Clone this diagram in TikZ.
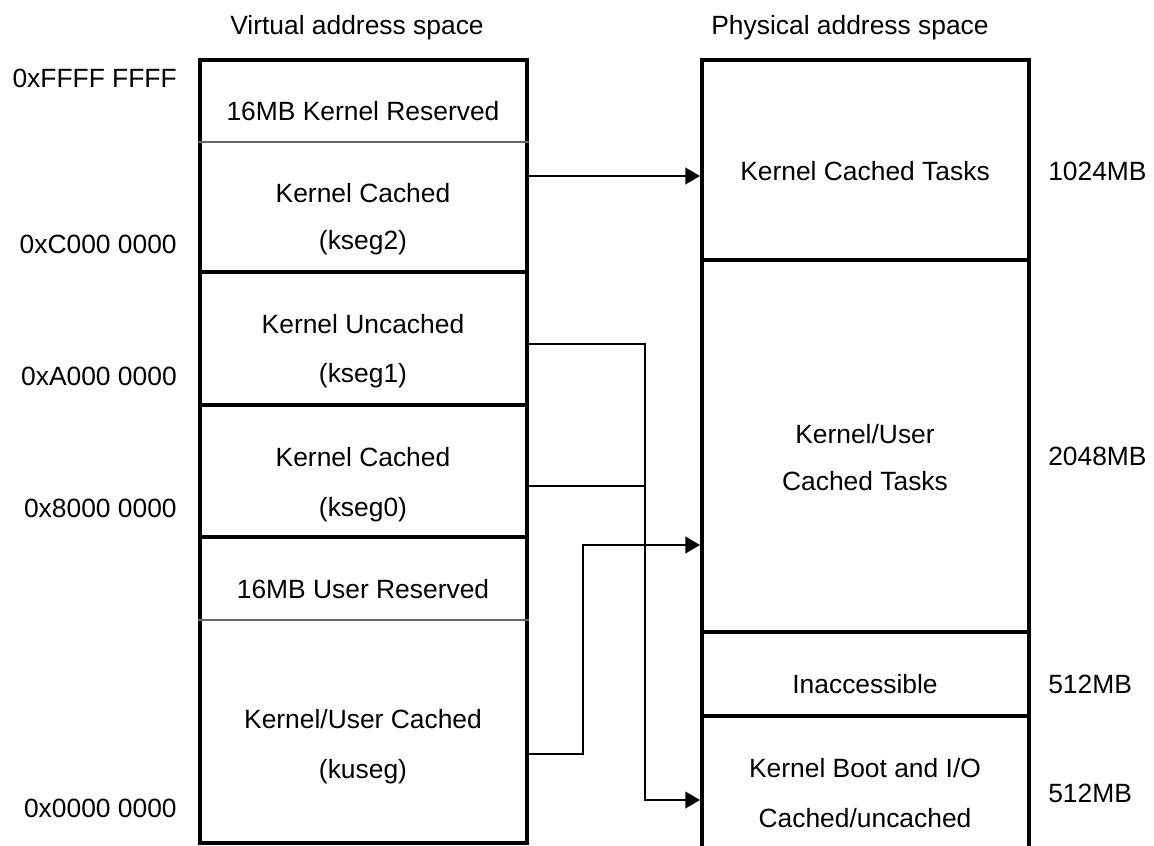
\documentclass[tikz,border=0pt]{standalone}
\usepackage{fontspec}
\setmainfont{Liberation Sans}
\usetikzlibrary{arrows.meta}

\tikzset{
  seg/.style 2 args={draw, line width=3pt, minimum width=#1*0.75pt, minimum height=#2*0.75pt, inner sep=0pt},
  lbl/.style={anchor=base, inner sep=0pt},
  addr/.style={anchor=base east, inner sep=0pt},
  mb/.style={anchor=base west, inner sep=0pt},
  divider/.style={line width=1.5pt, black!60},
  link/.style={line width=1.5pt, -{Triangle[length=11pt, width=12.5pt]}},
}

\begin{document}
\begin{tikzpicture}[x=0.75pt, y=-0.75pt, font=\fontsize{19.8}{24}\selectfont]

    \useasboundingbox (0,0) rectangle (1154,846);

    % virtual side
    \node[seg={327}{212}] (kseg2) at (363.5,166) {};
    \node[seg={327}{133}] (kseg1) at (363.5,338.5) {};
    \node[seg={327}{132}] (kseg0) at (363.5,471) {};
    \node[seg={327}{306}] (kuseg) at (363.5,690) {};
    \draw[divider] (kseg2.west |- 0,142) -- (kseg2.east |- 0,142);
    \draw[divider] (kuseg.west |- 0,620) -- (kuseg.east |- 0,620);

    % physical side
    \node[seg={327}{199.5}] (ktasks) at (865.5,159.75) {};
    \node[seg={327}{372.5}] (kutasks) at (865.5,445.75) {};
    \node[seg={327}{84}] (inacc) at (865.5,674) {};
    \node[seg={327}{184}] (boot) at (865.5,808) {};

    \node[lbl] (vtitle) at (357,35) {Virtual address space};
    \node[lbl] (ptitle) at (850,35) {Physical address space};

    \node[lbl] (kres) at (363,120) {16MB Kernel Reserved};
    \node[lbl] (kc2) at (363,202) {Kernel Cached};
    \node[lbl] (kc2b) at (363,249) {(kseg2)};
    \node[lbl] (ku1) at (363,333) {Kernel Uncached};
    \node[lbl] (ku1b) at (363,382) {(kseg1)};
    \node[lbl] (kc0) at (363,466) {Kernel Cached};
    \node[lbl] (kc0b) at (363,516) {(kseg0)};
    \node[lbl] (ures) at (363,598) {16MB User Reserved};
    \node[lbl] (kuc) at (363,728) {Kernel/User Cached};
    \node[lbl] (kucb) at (363,778) {(kuseg)};

    \node[addr] (aF) at (177,87) {0xFFFF FFFF};
    \node[addr] (aC) at (177,253) {0xC000 0000};
    \node[addr] (aA) at (177,385) {0xA000 0000};
    \node[addr] (a8) at (177,517) {0x8000 0000};
    \node[addr] (a0) at (177,817) {0x0000 0000};

    \node[lbl] (kct) at (865,180) {Kernel Cached Tasks};
    \node[lbl] (kut) at (865,443) {Kernel/User};
    \node[lbl] (kutb) at (865,490) {Cached Tasks};
    \node[lbl] (inac) at (865,693) {Inaccessible};
    \node[lbl] (kbio) at (865,777) {Kernel Boot and I/O};
    \node[lbl] (kbiob) at (865,827) {Cached/uncached};

    \node[mb] (m1024) at (1048,180) {1024MB};
    \node[mb] (m2048) at (1048,465) {2048MB};
    \node[mb] (m512a) at (1048,693) {512MB};
    \node[mb] (m512b) at (1048,802) {512MB};

    % mappings
    \coordinate (drop) at (645,800);
    \coordinate (rise) at (583,545);
    \draw[link] (kseg2.east |- 0,176) -- (ktasks.west |- 0,176);
    \draw[link] (kseg1.east |- 0,344) -| (drop) -- (boot.west |- drop);
    \draw[line width=1.5pt] (kseg0.east |- 0,486) -- (drop |- 0,486);
    \draw[link] (kuseg.east |- 0,754) -| (rise) -- (kutasks.west |- rise);

\end{tikzpicture}
\end{document}
